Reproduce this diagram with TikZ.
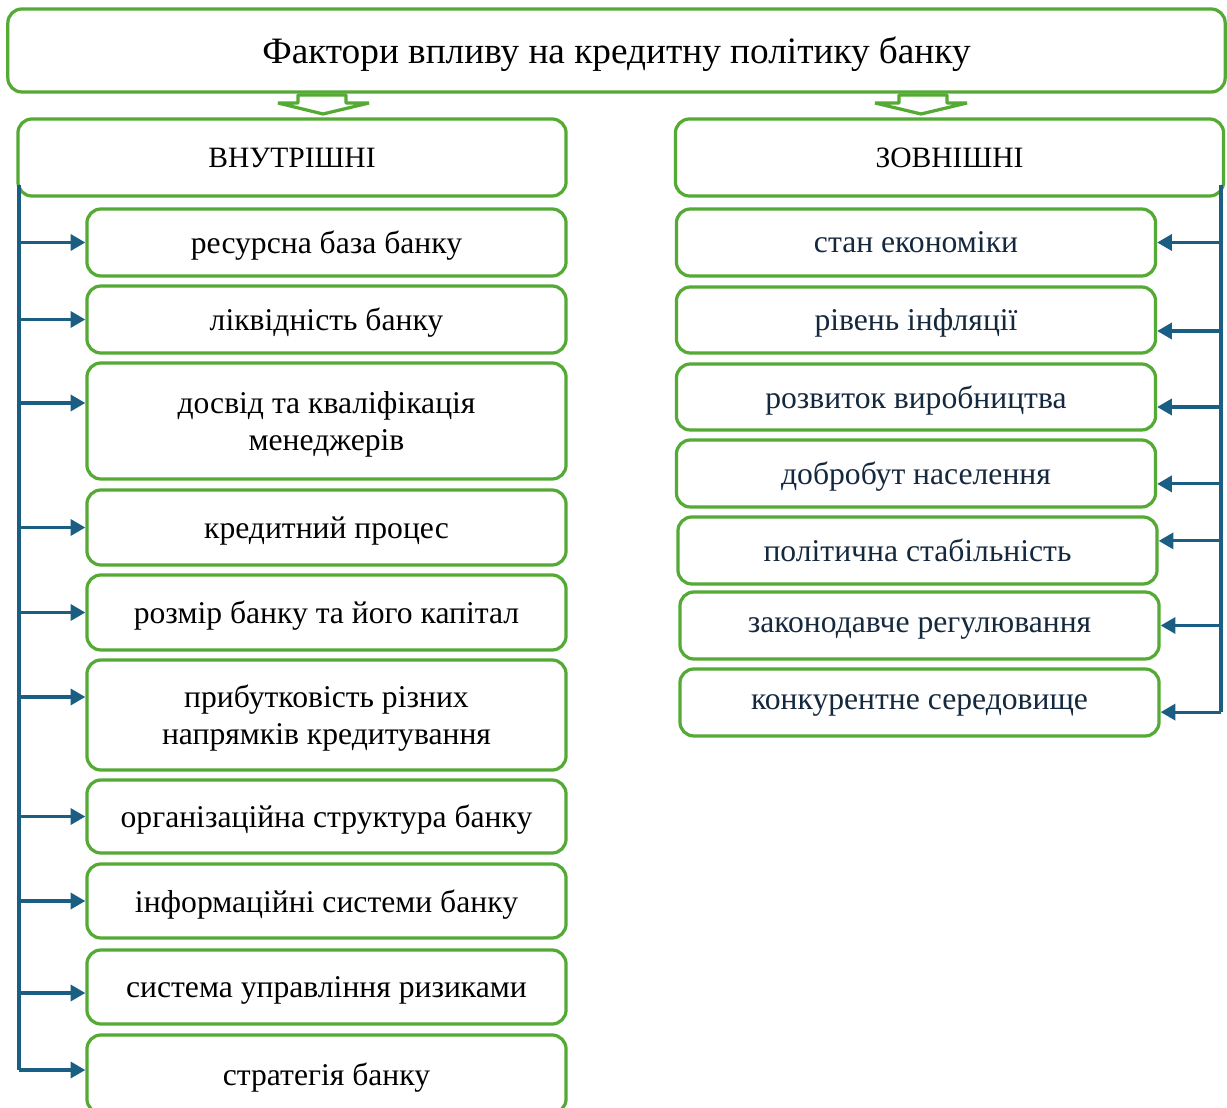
\documentclass[tikz,border=0pt]{standalone}
\usepackage{fontspec}
\setmainfont{Liberation Serif}
\usetikzlibrary{arrows.meta}
\usetikzlibrary{calc}

\definecolor{boxgreen}{RGB}{84,170,52}
\definecolor{linkblue}{RGB}{27,94,132}
\definecolor{textnavy}{RGB}{20,40,62}

\begin{document}
\begin{tikzpicture}[x=0.025cm, y=-0.025cm,
	box_main/.style={draw=boxgreen, line width=2.3pt, rounded corners=0.35cm, fill=white, align=center, inner sep=0pt, text depth=0pt},
	box_head/.style={box_main, minimum width=13.7cm, minimum height=1.925cm, font=\fontsize{21}{26}\selectfont},
	box_item/.style={box_main, minimum width=11.975cm, font=\fontsize{22.5}{26.5}\selectfont},
	box_outer/.style={box_item, text=textnavy},
	arrow_block/.style={draw=boxgreen, line width=2.3pt, fill=white, line join=bevel},
	link/.style={draw=linkblue, line width=2.2pt, -{Triangle[length=10.5pt, width=11.5pt]}}]
	
	\useasboundingbox (0,0) rectangle (1227,1108);
	
	%% BAGIAN ATAS (JUDUL) %%
	% Kotak judul
	\node[box_main, minimum width=30.425cm, minimum height=2.075cm, font=\fontsize{26.5}{30}\selectfont] (title) at (616.5,50.5) {Фактори впливу на кредитну політику банку};
	
	% Panah blok ke bawah
	\draw[arrow_block] (298,95) -- (298,103) -- (278,103) -- (323,114) -- (369,103) -- (346,103) -- (346,95) -- cycle;
	\draw[arrow_block] (899,95) -- (899,103) -- (875,103) -- (921,114) -- (967,103) -- (947,103) -- (947,95) -- cycle;
	
	% Kotak kepala kolom
	\node[box_head] (inner_head) at (292,157.5) {ВНУТРІШНІ};
	\node[box_head] (outer_head) at (949.5,157.5) {ЗОВНІШНІ};
	%% AKHIR BAGIAN ATAS %%
	
	%% KOLOM KIRI (ВНУТРІШНІ) %%
	\coordinate (trunk_A) at (19,185);
	\draw[link, -] (trunk_A) -- (19,1070);
	
	\node[box_item, minimum height=1.675cm] (inner_A1) at (326.5,242.5) {ресурсна база банку};
	\node[box_item, minimum height=1.675cm] (inner_A2) at (326.5,319.5) {ліквідність банку};
	\node[box_item, minimum height=2.9cm] (inner_A3) at (326.5,421) {досвід та кваліфікація\\менеджерів};
	\node[box_item, minimum height=1.875cm] (inner_A4) at (326.5,527.5) {кредитний процес};
	\node[box_item, minimum height=1.875cm] (inner_A5) at (326.5,612.5) {розмір банку та його капітал};
	\node[box_item, minimum height=2.75cm] (inner_A6) at (326.5,715) {прибутковість різних\\напрямків кредитування};
	\node[box_item, minimum height=1.825cm] (inner_A7) at (326.5,816.5) {організаційна структура банку};
	\node[box_item, minimum height=1.85cm] (inner_A8) at (326.5,901) {інформаційні системи банку};
	\node[box_item, minimum height=1.85cm] (inner_A9) at (326.5,987) {система управління ризиками};
	\node[box_item, minimum height=1.95cm] (inner_A10) at (326.5,1074) {стратегія банку};
	
	% Panah dari batang kiri ke tiap kotak
	\foreach \n/\dy in {A1/0, A2/0, A3/0.45, A4/0, A5/0, A6/0.45, A7/0, A8/0, A9/-0.15, A10/0.1}
		\draw[link] ([yshift=\dy cm]inner_\n.west -| trunk_A) -- ([yshift=\dy cm]inner_\n.west);
	%% AKHIR KOLOM KIRI %%
	
	%% KOLOM KANAN (ЗОВНІШНІ) %%
	\coordinate (trunk_B) at (1221,185);
	\draw[link, -] (trunk_B) -- (1221,712);
	
	\node[box_outer, minimum height=1.675cm] (outer_B1) at (916,242.5) {стан економіки};
	\node[box_outer, minimum height=1.65cm] (outer_B2) at (916,320) {рівень інфляції};
	\node[box_outer, minimum height=1.65cm] (outer_B3) at (916,397) {розвиток виробництва};
	\node[box_outer, minimum height=1.675cm] (outer_B4) at (916,473.5) {добробут населення};
	\node[box_outer, minimum height=1.675cm] (outer_B5) at (917.5,550.5) {політична стабільність};
	\node[box_outer, minimum height=1.675cm] (outer_B6) at (919.5,625.5) {законодавче регулювання};
	\node[box_outer, minimum height=1.675cm] (outer_B7) at (919.5,702.5) {конкурентне середовище};
	
	% Panah dari batang kanan ke tiap kotak
	\foreach \n/\dy in {B1/0, B2/-0.275, B3/-0.25, B4/-0.26, B5/0.24, B6/0, B7/-0.24}
		\draw[link] ([yshift=\dy cm]outer_\n.east -| trunk_B) -- ([yshift=\dy cm]outer_\n.east);
	%% AKHIR KOLOM KANAN %%
\end{tikzpicture}
\end{document}
